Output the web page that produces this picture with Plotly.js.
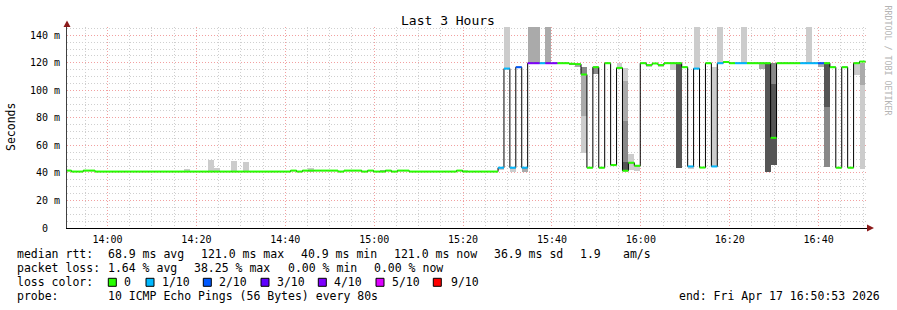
<!DOCTYPE html>
<html>
<head>
<meta charset="utf-8">
<script src="https://cdn.plot.ly/plotly-3.0.1.min.js"></script>
<style>
  html, body { margin: 0; padding: 0; background: #ffffff; }
  #chart { width: 897px; height: 310px; }
</style>
</head>
<body>
<div id="chart"></div>
<script>
// ---------------- DATA ----------------
// Samples every 80 s, first sample starting at 13:50:32 on 2026-04-17
const sampleStart = '2026-04-17T13:50:32Z';
const sampleStepSec = 80;

// median RTT per sample (ms)
const medianMs = [
  41.7, 41, 41, 41.7, 41.7, 41, 41, 41, 41, 41,
  41, 41, 41, 41, 41, 41, 41, 41, 41, 41,
  41, 41, 41, 41, 41, 41, 41, 41, 41, 41,
  41, 41, 41, 41, 41, 41, 41, 41, 41.7, 41,
  41.7, 41.7, 41.7, 41.7, 41.7, 41.7, 41, 41.7, 41.7, 41.7,
  41, 41.7, 41, 41, 41.7, 41, 41.7, 41.7, 41, 41,
  41, 41, 41, 41, 41, 41, 41.7, 41, 41, 41,
  41, 41, 41,
  43.8, 115.8, 43.8, 116.8, 43.8, 119.7, 119.7, 119.7, 119.7, 119.7,
  119.7, 119.7, 119.3, 119.0, 111.5, 43.8, 116.8, 43.8, 119.7, 45.7,
  116.3, 41.6, 47.4, 45.2, 119.7, 118.3, 119.5, 118.3, 119.7, 119.7,
  119.7, 116.8, 44.7, 115.8, 43.9, 119.7, 44.7, 119.7, 120.6, 119.7,
  119.7, 119.7, 119.7, 119.7, 119.7, 119.7, 65.5, 119.7, 119.7, 119.7,
  119.7, 119.7, 119.7, 119.7, 119.7, 119.7, 116.8, 43.8, 116.8, 43.8,
  119.7, 120.9
];

// packet loss class per sample (index into lossLabels / lossColors)
const lossClass = [
  0,0,0,0,0,0,0,0,0,0, 0,0,0,0,0,0,0,0,0,0,
  0,0,0,0,0,0,0,0,0,0, 0,0,0,0,0,0,0,0,0,0,
  0,0,0,0,0,0,0,0,0,0, 0,0,0,0,0,0,0,0,0,0,
  0,0,0,0,0,0,0,0,0,0, 0,0,0,
  1,1,1,2,1,4,4,1,4,4,
  0,0,0,0,0,0,0,0,0,0,
  0,0,0,0,0,0,0,0,0,0,
  0,0,1,1,0,0,1,1,0,0,
  1,1,0,0,0,0,0,0,0,0,
  0,1,1,1,2,0,0,0,0,0,
  0,0
];

const lossLabels = ['0', '1/10', '2/10', '3/10', '4/10', '5/10', '9/10'];
const lossColors = ['#26ff00', '#00b8ff', '#0059ff', '#5e00ff', '#7e00ff', '#dd00ff', '#ff0000'];

// smoke (ping spread) per sample: [sampleIndex, low ms, high ms], by shade
const smokeLight = [
  [20, 41, 42.8], [24, 41, 49.3], [25, 41, 43.7], [28, 41, 48.6], [30, 41, 47.9],
  [41, 41, 43.5], [67, 41, 42], [73, 41.8, 43.8], [74, 115.8, 146], [75, 41, 43.8],
  [87, 54.2, 81], [93, 116.3, 119.7], [94, 106.6, 116.3], [95, 42, 53.4], [96, 41.4, 45.2],
  [98, 117, 118.3], [100, 117, 118.3], [102, 114.6, 119.7], [105, 43, 44.7], [106, 115.8, 146],
  [109, 44.7, 117], [110, 119.7, 146], [114, 119.7, 146], [125, 119.7, 146], [133, 111, 119.7],
  [134, 43, 103.8]
];
const smokeMid = [
  [53, 41, 42], [77, 41, 43.8], [78, 119.7, 146], [79, 119.7, 146], [81, 119.7, 146],
  [85, 118.5, 119.7], [86, 117, 119.3], [87, 81, 111.5], [94, 77.8, 106.6], [117, 115.8, 119.7],
  [127, 117, 119.7], [134, 103.8, 119.7]
];
const smokeDark = [
  [87, 111.5, 117], [89, 112.2, 116.8], [94, 48, 77.8], [119, 104.5, 119.7], [128, 44.5, 88]
];
const smokeDarkest = [
  [94, 41.6, 48], [103, 43.8, 119.7], [118, 40.9, 119], [119, 45.7, 104.5], [128, 88, 119.7]
];

const yTickVals = [0, 20, 40, 60, 80, 100, 120, 140];
const yTickText = ['0\u00a0\u00a0', '20 m', '40 m', '60 m', '80 m', '100 m', '120 m', '140 m'];

const statsRtt = ['median rtt:', '68.9 ms avg', '121.0 ms max', '40.9 ms min', '121.0 ms now', '36.9 ms sd', '1.9', 'am/s'];
const statsLoss = ['packet loss:', '1.64 % avg', '38.25 % max', '0.00 % min', '0.00 % now'];
const probeText = ['probe:', '10 ICMP Echo Pings (56 Bytes) every 80s', 'end: Fri Apr 17 16:50:53 2026'];

// ---------------- BUILD ----------------
const MONO = 'DejaVu Sans Mono, monospace';
const t0 = Date.parse(sampleStart);
const stepMs = sampleStepSec * 1000;
function fmt(ms) { return new Date(ms).toISOString().replace('T', ' ').slice(0, 19); }
const startT = medianMs.map((_, i) => fmt(t0 + i * stepMs));
const endT = medianMs.map((_, i) => fmt(t0 + (i + 1) * stepMs));
const midT = medianMs.map((_, i) => fmt(t0 + i * stepMs + stepMs / 2));

const traces = [];
function smokeTrace(list, color) {
  return {
    type: 'bar',
    x: list.map(r => midT[r[0]]),
    base: list.map(r => r[1]),
    y: list.map(r => r[2] - r[1]),
    width: list.map(() => stepMs),
    marker: { color: color, line: { width: 0 } },
    hoverinfo: 'skip'
  };
}
traces.push(smokeTrace(smokeLight, '#cccccc'));
traces.push(smokeTrace(smokeMid, '#aaaaaa'));
traces.push(smokeTrace(smokeDark, '#888888'));
traces.push(smokeTrace(smokeDarkest, '#555555'));

// black step outline of the median
traces.push({
  type: 'scatter', mode: 'lines',
  x: startT.concat([endT[endT.length - 1]]),
  y: medianMs.concat([medianMs[medianMs.length - 1]]),
  line: { color: '#000000', width: 1, shape: 'hv' },
  hoverinfo: 'skip'
});

// coloured median segments by loss
lossColors.forEach((col, k) => {
  const xs = [], ys = [];
  medianMs.forEach((m, i) => {
    if (lossClass[i] === k) { xs.push(startT[i], endT[i], null); ys.push(m, m, null); }
  });
  if (xs.length) traces.push({
    type: 'scatter', mode: 'lines', x: xs, y: ys,
    line: { color: col, width: 2 }, hoverinfo: 'skip', connectgaps: false
  });
});

// ---------------- LAYOUT ----------------
const L = 67, T = 27, W = 800, H = 201;
const px = v => (v - L) / W;
const py = v => (T + H - v) / H;

const annotations = [];
function ann(x, y, text, o) {
  annotations.push(Object.assign({
    xref: 'paper', yref: 'paper', x: px(x), y: py(y), text: text, showarrow: false,
    xanchor: 'left', yanchor: 'middle', borderpad: 0,
    font: { family: MONO, size: 11.5, color: '#000000' }
  }, o || {}));
}
ann(448, 20, 'Last 3 Hours', { xanchor: 'center', font: { family: MONO, size: 13, color: '#000' } });
ann(11, 127, 'Seconds', { xanchor: 'center', textangle: -90, font: { family: MONO, size: 11.5, color: '#000' } });
ann(887.5, 60, 'RRDTOOL / TOBI OETIKER', { xanchor: 'center', textangle: 90, font: { family: MONO, size: 8.3, color: '#b4b4b4' } });

const rttX = [15.5, 107, 199.5, 299.5, 393, 493, 579, 621.5];
statsRtt.forEach((s, i) => ann(rttX[i], 254.3, s));
const lossX = [15.5, 107, 193, 286.5, 372.5];
statsLoss.forEach((s, i) => ann(lossX[i], 268.3, s));
ann(15.5, 282.3, 'loss color:');
const boxX = [108.3, 146, 203.3, 261, 318.3, 376, 433.3];
const labX = [123, 160.5, 218, 275.5, 333, 390.5, 449.7];
const shapes = [];
lossLabels.forEach((lab, i) => {
  ann(labX[i], 282.3, lab);
  shapes.push({
    type: 'rect', xref: 'paper', yref: 'paper',
    x0: px(boxX[i]), x1: px(boxX[i] + 8), y0: py(286.3), y1: py(278.3),
    fillcolor: lossColors[i], line: { color: '#000000', width: 1 }
  });
});
ann(15.5, 296, probeText[0]);
ann(107, 296, probeText[1]);
ann(678, 296, probeText[2]);

// axis arrows
function tri(a, b, c) {
  return 'M' + px(a[0]) + ',' + py(a[1]) + ' L' + px(b[0]) + ',' + py(b[1]) + ' L' + px(c[0]) + ',' + py(c[1]) + ' Z';
}
shapes.push({ type: 'path', xref: 'paper', yref: 'paper', path: tri([67, 20.5], [63.5, 27], [70.5, 27]), fillcolor: '#8b1a1a', line: { width: 0 } });
shapes.push({ type: 'path', xref: 'paper', yref: 'paper', path: tri([874, 228], [867, 224.5], [867, 231.5]), fillcolor: '#8b1a1a', line: { width: 0 } });

const majorGrid = '#f2a0a0', minorGrid = '#cfcfcf', dash = '1px,2px';
const layout = {
  width: 897, height: 310,
  margin: { l: L, r: 897 - L - W, t: T, b: 310 - T - H, pad: 0 },
  paper_bgcolor: '#ffffff', plot_bgcolor: '#ffffff',
  showlegend: false, barmode: 'overlay', bargap: 0,
  xaxis: {
    type: 'date',
    range: ['2026-04-17 13:50:53', '2026-04-17 16:50:53'],
    tickmode: 'linear', tick0: '2026-04-17 14:00:00', dtick: 20 * 60000,
    tickformat: '%H:%M',
    showgrid: true, gridcolor: majorGrid, griddash: dash, gridwidth: 1,
    minor: { tickmode: 'linear', tick0: '2026-04-17 14:00:00', dtick: 5 * 60000, showgrid: true, gridcolor: minorGrid, griddash: dash, gridwidth: 1, ticks: '' },
    showline: true, linecolor: '#000000', linewidth: 1,
    ticks: '', ticklabelstandoff: 2,
    tickfont: { family: MONO, size: 10, color: '#000000' },
    zeroline: false, fixedrange: true
  },
  yaxis: {
    range: [0, 146],
    tickmode: 'array', tickvals: yTickVals, ticktext: yTickText,
    showgrid: true, gridcolor: majorGrid, griddash: dash, gridwidth: 1,
    minor: { tickmode: 'linear', tick0: 0, dtick: 5, showgrid: true, gridcolor: minorGrid, griddash: dash, gridwidth: 1, ticks: '' },
    showline: true, linecolor: '#404040', linewidth: 1,
    ticks: '', ticklabelstandoff: 4,
    tickfont: { family: MONO, size: 10, color: '#000000' },
    zeroline: false, fixedrange: true
  },
  annotations: annotations,
  shapes: shapes
};

Plotly.newPlot('chart', traces, layout, { displayModeBar: false, staticPlot: true });
</script>
</body>
</html>
